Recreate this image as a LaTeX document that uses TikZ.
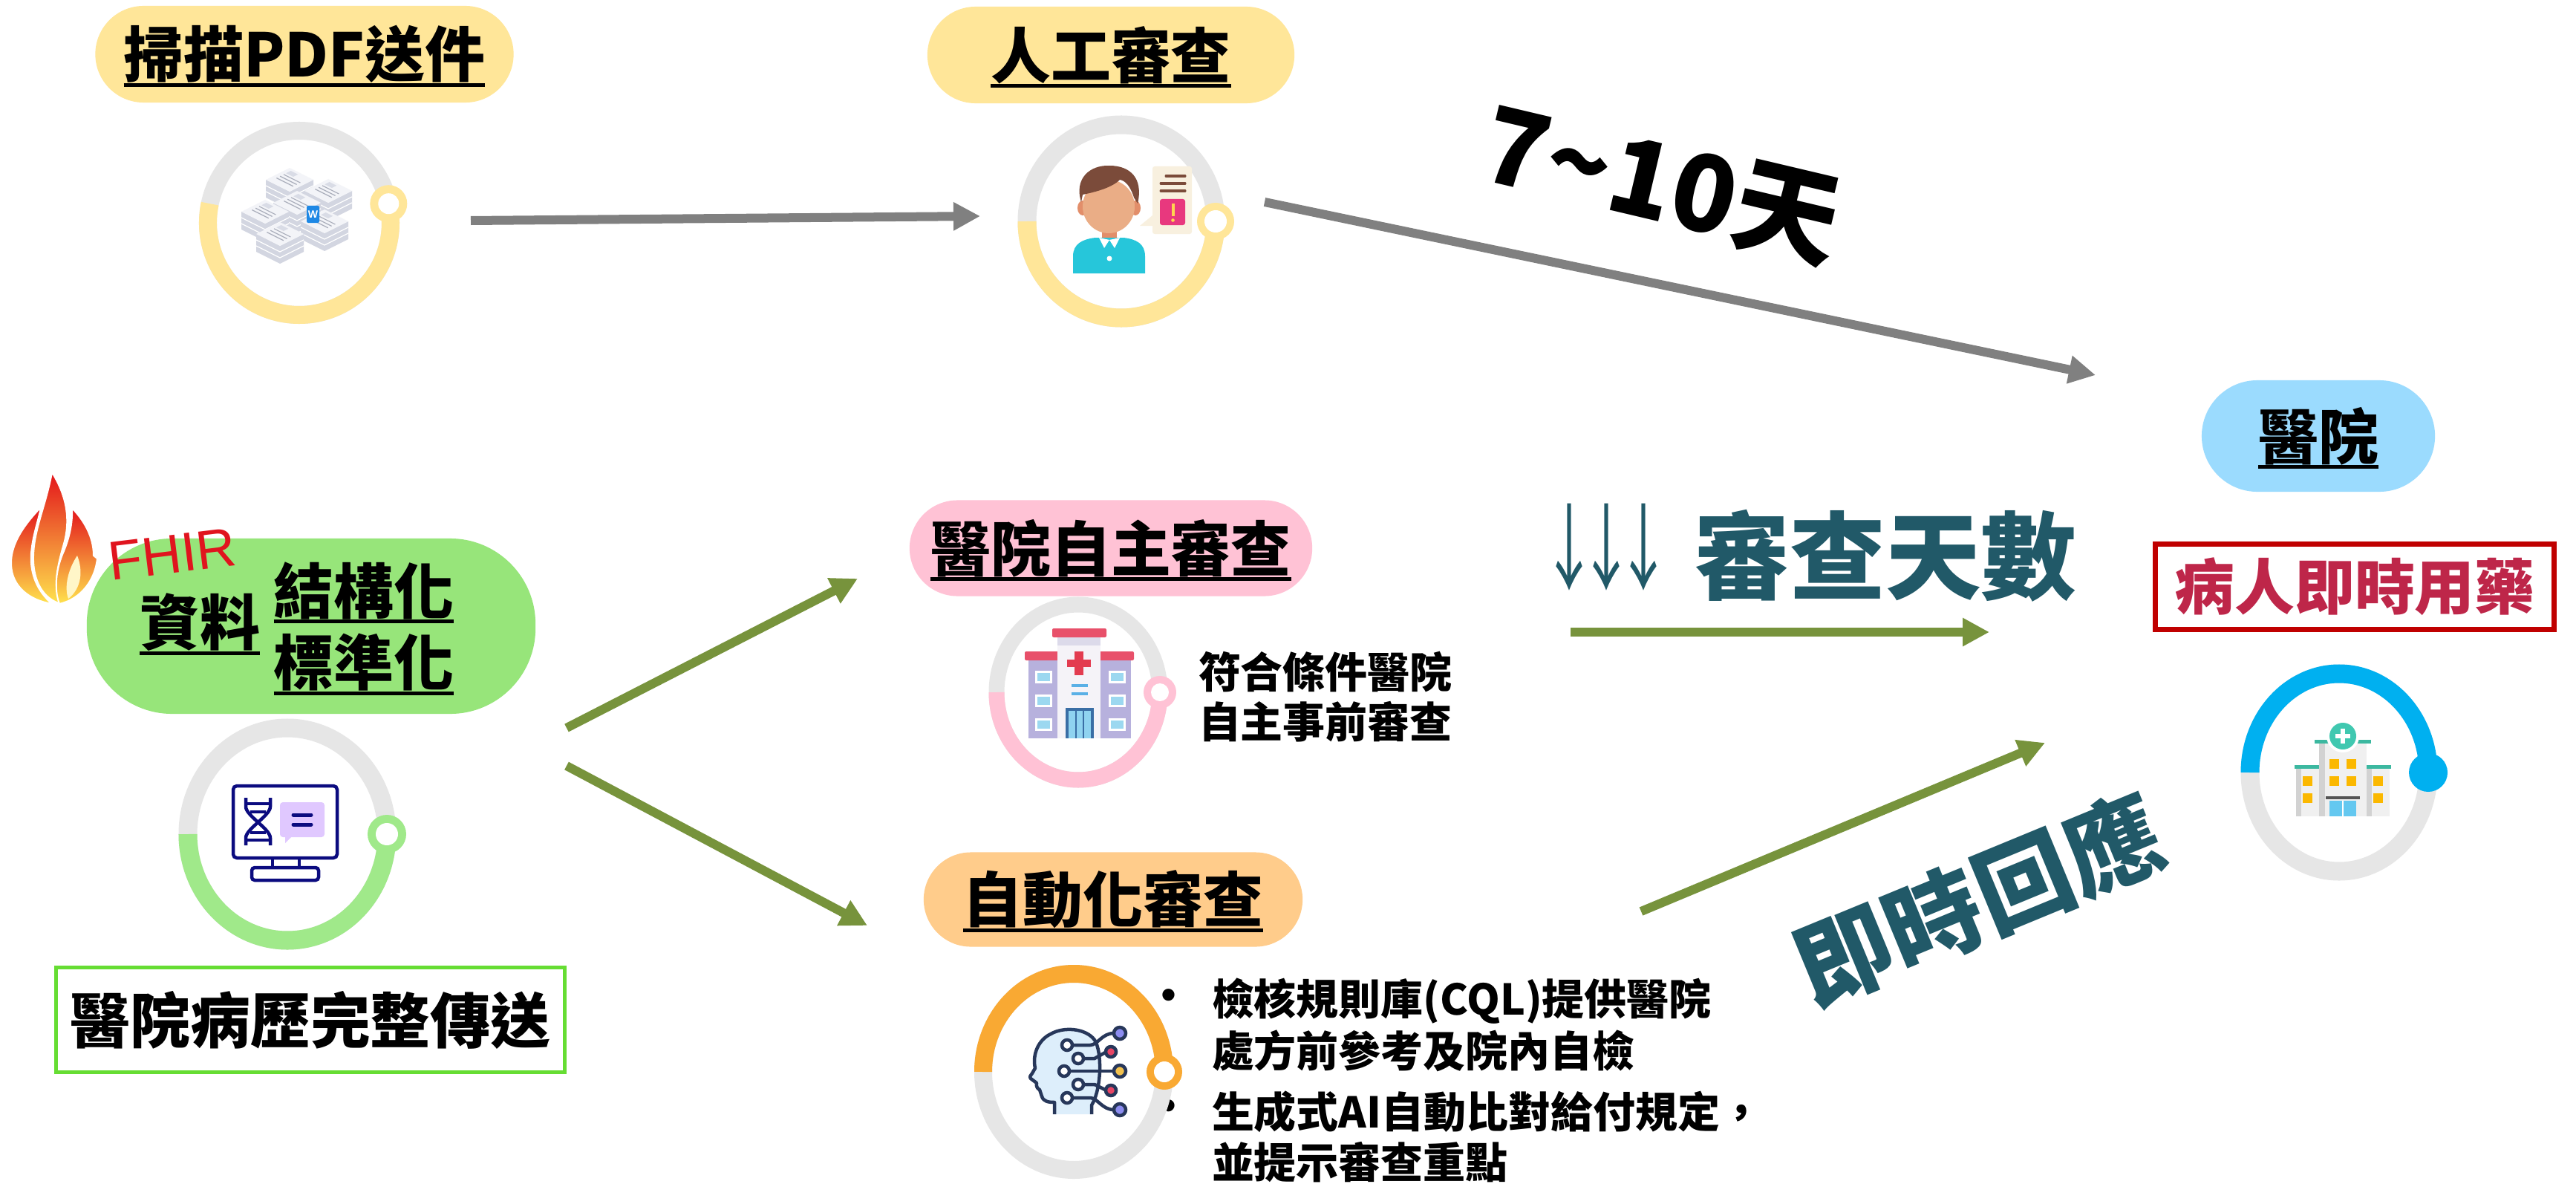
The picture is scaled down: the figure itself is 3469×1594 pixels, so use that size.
\documentclass[tikz,border=0pt]{standalone}
\usepackage{fontspec}
\newfontfamily\cjk{Noto Sans CJK TC}
\newfontfamily\cjkplain{Noto Sans CJK TC}[Kerning=Off]
\newfontfamily\lsans{Liberation Sans}
\usetikzlibrary{arrows.meta,calc}

% palette
\definecolor{pillyellow}{HTML}{FFE699}
\definecolor{pillgreen}{HTML}{97E57A}
\definecolor{ringgreen}{HTML}{A0E98A}
\definecolor{pillpink}{HTML}{FFC2D5}
\definecolor{pillorange}{HTML}{FFCC8B}
\definecolor{ringorange}{HTML}{F9A933}
\definecolor{pillblue}{HTML}{9BDBFE}
\definecolor{ringblue}{HTML}{00B0F0}
\definecolor{ringgray}{HTML}{E6E6E6}
\definecolor{arrowgray}{HTML}{808080}
\definecolor{arrowolive}{HTML}{77933C}
\definecolor{tealtext}{HTML}{215968}
\definecolor{boxgreen}{HTML}{66DD33}
\definecolor{boxred}{HTML}{C00000}
\definecolor{drugred}{HTML}{BE2649}
\definecolor{fhirred}{HTML}{E0141E}
\definecolor{flred}{HTML}{E3141B}
\definecolor{florange}{HTML}{F39A1E}
\definecolor{flyellow}{HTML}{FFE34D}
\definecolor{flcore}{HTML}{FFF6C8}
\definecolor{doctop}{HTML}{F3F4F8}
\definecolor{docside}{HTML}{D3D6E1}
\definecolor{docline}{HTML}{A9ADBA}
\definecolor{docpic}{HTML}{D9DCE6}
\definecolor{badgeblue}{HTML}{1E88E5}
\definecolor{hairbrown}{HTML}{7B4B3A}
\definecolor{skin}{HTML}{EAAD86}
\definecolor{skindark}{HTML}{E28E6A}
\definecolor{shirtcyan}{HTML}{26C6DA}
\definecolor{notepaper}{HTML}{F8F0DF}
\definecolor{alertpink}{HTML}{E8387E}
\definecolor{alertyellow}{HTML}{FFD54F}
\definecolor{navyline}{HTML}{0B0B7F}
\definecolor{lavender}{HTML}{E0C8FF}
\definecolor{wingpurple}{HTML}{B7B1DD}
\definecolor{roofred}{HTML}{E8506A}
\definecolor{crossred}{HTML}{E33C50}
\definecolor{towerwhite}{HTML}{F5F3F8}
\definecolor{towerband}{HTML}{DCDAEA}
\definecolor{winblue}{HTML}{9CD8F0}
\definecolor{barblue}{HTML}{5AB0E6}
\definecolor{doorframe}{HTML}{3A6EA5}
\definecolor{doorblue}{HTML}{8FD3F0}
\definecolor{headnavy}{HTML}{27375A}
\definecolor{headblue}{HTML}{DDEEFB}
\definecolor{nodepurple}{HTML}{8C8CF0}
\definecolor{nodered}{HTML}{E84565}
\definecolor{nodeyellow}{HTML}{F2C14E}
\definecolor{bldwhite}{HTML}{F0F0F0}
\definecolor{bldgray}{HTML}{D2D2D2}
\definecolor{hospteal}{HTML}{3CB8A0}
\definecolor{hospteal2}{HTML}{40C8B0}
\definecolor{winyellow}{HTML}{FBB800}
\definecolor{doorlblue}{HTML}{64C8F0}
\definecolor{awning}{HTML}{555555}

% underlined heading text; the rule does not change the box size
\newsavebox\ulbox
\newcommand\ulined[1]{\sbox\ulbox{#1}\smash{\rlap{\rule[-0.16em]{\wd\ulbox}{0.06em}}}\usebox\ulbox}
\newcommand\dnarrow{\makebox[0.5cm]{\scalebox{0.6}[1]{↓}}}

% one isometric stack of paper sheets
\newcommand\paperstack[2]{%
\begin{scope}[shift={(#1,#2)}]
 \fill[docside] (-32,0) -- (0,16) -- (32,0) -- (32,24) -- (0,40) -- (-32,24) -- cycle;
 \draw[white, line width=0.012cm] (-32,8) -- (0,24) -- (32,8) (-32,16) -- (0,32) -- (32,16);
 \fill[doctop] (-32,0) -- (0,-16) -- (32,0) -- (0,16) -- cycle;
 \fill[docpic] (-4.8,-8.8) -- (1.6,-12) -- (11.2,-7.2) -- (4.8,-4) -- cycle;
 \draw[docline, line width=0.012cm] (-17.6,-2.4) -- (4.8,8.8) (-12.8,-4.8) -- (9.6,6.4) (-8,-7.2) -- (14.4,4);
\end{scope}}

\tikzset{
  every node/.style={inner sep=0pt, outer sep=0pt},
  pill/.style={rounded corners=#1},
  headtxt/.style={font=\cjk\bfseries\fontsize{23}{27}\selectfont},
  bodytxt/.style={font=\cjk\bfseries\fontsize{16.2}{19}\selectfont, anchor=west},
  bulletdot/.style={font=\lsans\fontsize{17}{19}\selectfont},
  grayarrow/.style={draw=arrowgray, line width=0.12cm, -{Triangle[length=0.36cm,width=0.36cm]}},
  olivearrow/.style={draw=arrowolive, line width=0.12cm, -{Triangle[length=0.36cm,width=0.36cm]}},
  track/.style={draw=ringgray, line width=#1},
}

\begin{document}
\begin{tikzpicture}[x=0.01cm, y=-0.01cm]
\useasboundingbox (0,0) rectangle (3469,1594);
\fill[white] (0,0) rectangle (3469,1594);

% ---------- stage titles ----------
\node[pill=0.65cm, fill=pillyellow, minimum width=5.63cm, minimum height=1.3cm, headtxt] (scan) at (410,73) {\ulined{掃描PDF送件}};
\node[pill=0.65cm, fill=pillyellow, minimum width=4.94cm, minimum height=1.3cm, headtxt] (manual) at (1496,74) {\ulined{人工審查}};
\node[pill=1.15cm, fill=pillgreen, minimum width=6.04cm, minimum height=2.36cm] (data) at (419,843) {};
\node[headtxt] (data-a) at (269,838) {\ulined{資料}};
\node[headtxt] (data-b) at (490,795) {\ulined{結構化}};
\node[headtxt] (data-c) at (490,892) {\ulined{標準化}};
\node[pill=0.645cm, fill=pillpink, minimum width=5.42cm, minimum height=1.29cm, headtxt] (self) at (1496,738) {\ulined{醫院自主審查}};
\node[pill=0.635cm, fill=pillorange, minimum width=5.1cm, minimum height=1.27cm, headtxt] (auto) at (1499,1211) {\ulined{自動化審查}};
\node[pill=0.75cm, fill=pillblue, minimum width=3.14cm, minimum height=1.5cm, headtxt] (hosp) at (3122,587) {\ulined{醫院}};

\node[draw=boxgreen, line width=0.05cm, minimum width=6.84cm, minimum height=1.4cm, headtxt] (record) at (418,1373) {醫院病歷完整傳送};
\node[draw=boxred, line width=0.07cm, minimum width=5.36cm, minimum height=1.14cm, headtxt, text=drugred] (patient) at (3171,790) {病人即時用藥};

% ---------- FHIR flame ----------
\shade[top color=flred, middle color=florange, bottom color=flyellow, draw=white, line width=0.02cm]
  (55,683) .. controls (36,703) and (14,730) .. (15,760) .. controls (16,790) and (40,808) .. (70,813)
  .. controls (50,796) and (40,772) .. (42,745) .. controls (44,720) and (52,700) .. (55,683) -- cycle;
\shade[top color=flred, middle color=florange, bottom color=flyellow, draw=white, line width=0.02cm]
  (70,636) .. controls (90,668) and (95,700) .. (86,732) .. controls (78,760) and (70,790) .. (82,813)
  .. controls (58,806) and (44,782) .. (45,748) .. controls (46,712) and (62,680) .. (70,636) -- cycle;
\shade[top color=flred, middle color=florange, bottom color=flyellow, draw=white, line width=0.02cm]
  (97,684) .. controls (118,706) and (126,728) .. (126,748) -- (131,752)
  .. controls (128,780) and (110,806) .. (80,813) .. controls (72,792) and (76,764) .. (86,742)
  .. controls (93,725) and (98,705) .. (97,684) -- cycle;
\fill[flcore] (104,748) .. controls (112,768) and (110,792) .. (92,806) .. controls (86,790) and (92,766) .. (104,748) -- cycle;
\node[font=\lsans\fontsize{21}{24}\selectfont, text=fhirred, rotate=7] (fhir) at (232,746) {FHIR};

% ---------- ring centres ----------
\coordinate (ring-scan) at (403,300);
\coordinate (ring-manual) at (1510,298);
\coordinate (ring-data) at (387,1123);
\coordinate (ring-self) at (1452,932);
\coordinate (ring-auto) at (1446,1443);
\coordinate (ring-hosp) at (3150,1040);

% scan ring
\draw[track=0.24cm] (ring-scan) ellipse[x radius=123, y radius=124];
\draw[pillyellow, line width=0.24cm] ($(ring-scan)+(192:123 and 124)$) arc[start angle=192, end angle=-12, x radius=123, y radius=124];
\fill[pillyellow] ($(ring-scan)+(-12:123 and 124)$) circle[radius=25];
\fill[white] ($(ring-scan)+(-12:123 and 124)$) circle[radius=14];

% manual ring
\draw[track=0.25cm] (ring-manual) ellipse[x radius=127, y radius=130];
\draw[pillyellow, line width=0.25cm] ($(ring-manual)+(180:127 and 130)$) arc[start angle=180, end angle=0, x radius=127, y radius=130];
\fill[pillyellow] ($(ring-manual)+(0:127 and 130)$) circle[radius=25];
\fill[white] ($(ring-manual)+(0:127 and 130)$) circle[radius=15];

% data ring
\draw[track=0.25cm] (ring-data) ellipse[x radius=134, y radius=143];
\draw[ringgreen, line width=0.25cm] ($(ring-data)+(180:134 and 143)$) arc[start angle=180, end angle=0, x radius=134, y radius=143];
\fill[ringgreen] ($(ring-data)+(0:134 and 143)$) circle[radius=26];
\fill[white] ($(ring-data)+(0:134 and 143)$) circle[radius=15];

% self-review ring
\draw[track=0.21cm] (ring-self) ellipse[x radius=110, y radius=118];
\draw[pillpink, line width=0.21cm] ($(ring-self)+(180:110 and 118)$) arc[start angle=180, end angle=0, x radius=110, y radius=118];
\fill[pillpink] ($(ring-self)+(0:110 and 118)$) circle[radius=22];
\fill[white] ($(ring-self)+(0:110 and 118)$) circle[radius=12];

% ---------- texts beside the rings ----------
\node[bodytxt] (self-l1) at (1614,905) {符合條件醫院};
\node[bodytxt] (self-l2) at (1614,972) {自主事前審查};
\node[bulletdot] (bul1) at (1574,1346) {•};
\node[bulletdot] (bul2) at (1574,1495) {•};
\node[bodytxt] (auto-l1) at (1632,1348) {檢核規則庫(CQL)提供醫院};
\node[bodytxt] (auto-l2) at (1632,1415) {處方前參考及院內自檢};
\node[bodytxt] (auto-l3) at (1632,1497) {生成式AI自動比對給付規定，};
\node[bodytxt] (auto-l4) at (1632,1565) {並提示審查重點};

% automated-review ring
\draw[track=0.24cm] (ring-auto) ellipse[x radius=122, y radius=132];
\draw[ringorange, line width=0.24cm] ($(ring-auto)+(180:122 and 132)$) arc[start angle=180, end angle=360, x radius=122, y radius=132];
\fill[ringorange] ($(ring-auto)+(0:122 and 132)$) circle[radius=24];
\fill[white] ($(ring-auto)+(0:122 and 132)$) circle[radius=14];

% hospital ring
\draw[track=0.25cm] (ring-hosp) ellipse[x radius=120, y radius=133];
\draw[ringblue, line width=0.25cm] ($(ring-hosp)+(180:120 and 133)$) arc[start angle=180, end angle=360, x radius=120, y radius=133];
\fill[ringblue] ($(ring-hosp)+(0:120 and 133)$) circle[radius=26];

% ---------- icon: scanned paper stacks ----------
\paperstack{390}{242}
\paperstack{442}{257}
\paperstack{400}{273}
\paperstack{357}{285}
\paperstack{437}{298}
\paperstack{377}{315}
\fill[badgeblue, rounded corners=0.02cm] (413,277) rectangle (430,300);
\node[font=\lsans\bfseries\fontsize{4}{4}\selectfont, text=white] (badge-w) at (421.5,288.5) {W};

% ---------- icon: reviewer ----------
\fill[skindark] (1458,280) ellipse[x radius=7, y radius=10];
\fill[skindark] (1529,280) ellipse[x radius=7, y radius=10];
\fill[skindark] (1484,305) rectangle (1504,326);
\fill[shirtcyan] (1445,368) -- (1445,345) .. controls (1445,328) and (1458,322) .. (1475,320) -- (1513,320)
  .. controls (1530,322) and (1542,328) .. (1542,345) -- (1542,368) -- cycle;
\fill[white] (1480,320) -- (1494,323) -- (1487,334) -- cycle;
\fill[white] (1508,320) -- (1494,323) -- (1501,334) -- cycle;
\fill[white] (1494,348) circle[radius=3.5];
\fill[skin] (1493,278) ellipse[x radius=35, y radius=36];
\fill[hairbrown] (1456,272) .. controls (1446,240) and (1468,222) .. (1494,223) .. controls (1522,223) and (1540,240) .. (1532,274)
  -- (1527,266) .. controls (1522,250) and (1515,243) .. (1508,242) .. controls (1498,252) and (1478,258) .. (1458,262) -- cycle;
\fill[notepaper] (1552,290) -- (1535,304) -- (1556,304) -- cycle;
\fill[notepaper, rounded corners=0.03cm] (1552,224) rectangle (1605,315);
\draw[hairbrown, line width=0.03cm, line cap=round] (1570,237) -- (1596,237) (1563,247) -- (1596,247) (1563,257) -- (1596,257);
\fill[alertpink, rounded corners=0.03cm] (1562,268) rectangle (1596,303);
\fill[alertyellow] (1577.5,274) rectangle (1581.5,291);
\fill[alertyellow] (1579.5,296.5) circle[radius=2.3];

% ---------- icon: monitor with DNA ----------
\begin{scope}[navyline, line width=0.045cm]
 \draw[rounded corners=0.05cm] (314,1058) rectangle (454,1155);
 \draw (367,1155) -- (367,1168) (403,1155) -- (403,1168);
 \draw[rounded corners=0.04cm] (339,1168) rectangle (429,1185);
 \draw (331,1074) -- (331,1086) .. controls (331,1098) and (364,1116) .. (364,1128) -- (364,1138);
 \draw (364,1074) -- (364,1086) .. controls (364,1098) and (331,1116) .. (331,1128) -- (331,1138);
 \draw (331,1082) -- (364,1082) (337,1093) -- (358,1093) (337,1121) -- (358,1121) (331,1131) -- (364,1131);
 \fill[lavender, rounded corners=0.04cm] (377,1080) rectangle (437,1127);
 \fill[lavender] (384,1124) -- (384,1135) -- (395,1124) -- cycle;
 \draw[line width=0.05cm, line cap=round] (395,1097) -- (419,1097) (395,1110) -- (419,1110);
\end{scope}

% ---------- icon: hospital (self review) ----------
\fill[wingpurple] (1385,886) rectangle (1424,994);
\fill[wingpurple] (1482,886) rectangle (1523,994);
\fill[roofred, rounded corners=0.02cm] (1380,877) rectangle (1428,889);
\fill[roofred, rounded corners=0.02cm] (1478,877) rectangle (1527,889);
\fill[towerwhite] (1424,856) rectangle (1482,994);
\fill[towerband] (1424,856) rectangle (1482,869);
\fill[roofred, rounded corners=0.02cm] (1417,846) rectangle (1490,858);
\fill[crossred] (1447,877) rectangle (1459,909);
\fill[crossred] (1437,888) rectangle (1469,898);
\fill[barblue] (1443,921) rectangle (1465,925);
\fill[barblue] (1443,932) rectangle (1465,936);
\fill[doorframe] (1435,953) rectangle (1473,994);
\fill[doorblue] (1439,957) rectangle (1469,994);
\draw[doorframe, line width=0.015cm] (1449,957) -- (1449,994) (1459,957) -- (1459,994);
\foreach \wy in {903,935,967} {
  \fill[white] (1394,\wy) rectangle (1417,\wy+17);
  \fill[winblue] (1397,\wy+3) rectangle (1414,\wy+14);
  \fill[white] (1493,\wy) rectangle (1516,\wy+17);
  \fill[winblue] (1496,\wy+3) rectangle (1513,\wy+14);
}

% ---------- icon: AI head ----------
\filldraw[fill=headblue, draw=headnavy, line width=0.045cm, line join=round]
 (1420,1500) -- (1420,1484) .. controls (1412,1484) and (1405,1483) .. (1403,1476)
 -- (1400,1467) .. controls (1397,1466) and (1395,1462) .. (1396,1458)
 -- (1388,1452) .. controls (1386,1450) and (1388,1447) .. (1390,1445)
 -- (1394,1438) .. controls (1390,1420) and (1398,1400) .. (1415,1392)
 .. controls (1432,1382) and (1462,1384) .. (1474,1400)
 .. controls (1484,1415) and (1484,1465) .. (1470,1488) -- (1470,1500);
\begin{scope}[headnavy, line width=0.045cm]
 \draw (1437,1407) -- (1468,1407) .. controls (1478,1407) and (1484,1391) .. (1500,1391);
 \draw (1452,1425) -- (1474,1425) -- (1490,1416);
 \draw (1433,1442) -- (1500,1442);
 \draw (1452,1460) -- (1474,1460) -- (1490,1468);
 \draw (1437,1478) -- (1468,1478) .. controls (1478,1478) and (1484,1494) .. (1500,1494);
 \filldraw[fill=white] (1437,1407) circle[radius=7] (1452,1425) circle[radius=7] (1433,1442) circle[radius=7]
   (1452,1460) circle[radius=7] (1437,1478) circle[radius=7];
 \filldraw[fill=nodepurple] (1508,1391) circle[radius=8];
 \filldraw[fill=nodered] (1496,1416) circle[radius=7];
 \filldraw[fill=nodeyellow] (1508,1442) circle[radius=8];
 \filldraw[fill=nodered] (1496,1468) circle[radius=7];
 \filldraw[fill=nodepurple] (1508,1494) circle[radius=8];
\end{scope}

% ---------- icon: hospital (result) ----------
\fill[bldwhite] (3092,1033) rectangle (3123,1099);
\fill[bldgray] (3092,1033) rectangle (3099,1099);
\fill[bldwhite] (3187,1033) rectangle (3218,1099);
\fill[bldgray] (3187,1033) rectangle (3194,1099);
\fill[hospteal] (3090,1030) rectangle (3125,1035);
\fill[hospteal] (3185,1030) rectangle (3220,1035);
\fill[bldwhite] (3123,999) rectangle (3187,1099);
\fill[bldgray] (3123,999) rectangle (3131,1099);
\fill[hospteal] (3117,996) rectangle (3193,1001);
\fill[white] (3155,991) circle[radius=22];
\fill[hospteal2] (3155,991) circle[radius=18];
\fill[white] (3152,981) rectangle (3158,1001);
\fill[white] (3145,988) rectangle (3165,994);
\foreach \wx/\wy in {3137/1022,3160/1022,3137/1045,3160/1045,3101/1045,3101/1068,3196/1045,3196/1068}
  \fill[winyellow] (\wx,\wy) rectangle (\wx+13,\wy+13);
\fill[doorlblue] (3137,1078) rectangle (3173,1099);
\draw[white, line width=0.012cm] (3155,1078) -- (3155,1099);
\fill[awning] (3132,1072) rectangle (3178,1076);

% ---------- connectors ----------
\coordinate (scan-out) at (634,297);
\coordinate (manual-in) at (1320,291);
\coordinate (manual-out) at (1703,272);
\coordinate (hosp-in-top) at (2822,505);
\coordinate (data-out-up) at (763,980);
\coordinate (self-in) at (1155,779);
\coordinate (data-out-down) at (763,1031);
\coordinate (auto-in) at (1168,1246);
\coordinate (fewer-start) at (2115,851);
\coordinate (fewer-end) at (2679,851);
\coordinate (auto-out) at (2210,1227);
\coordinate (hosp-in-bottom) at (2754,1000);

\draw[grayarrow] (scan-out) -- (manual-in);
\draw[grayarrow] (manual-out) -- (hosp-in-top);
\draw[olivearrow] (data-out-up) -- (self-in);
\draw[olivearrow] (data-out-down) -- (auto-in);
\draw[olivearrow] (fewer-start) -- (fewer-end);
\draw[olivearrow] (auto-out) -- (hosp-in-bottom);

% ---------- connector labels ----------
\node[font=\cjkplain\bfseries\fontsize{40.5}{46}\selectfont, rotate=-13.3] (days) at (2238,248) {7\textasciitilde 10天};
\node[font=\cjk\fontsize{36}{40}\selectfont, text=tealtext] (down) at (2163,737) {\dnarrow\dnarrow\dnarrow};
\node[font=\cjk\bfseries\fontsize{36.6}{40}\selectfont, text=tealtext] (fewer) at (2539,748) {審查天數};
\node[font=\cjk\bfseries\fontsize{37}{40}\selectfont, text=tealtext, rotate=22.4] (instant) at (2664,1211) {即時回應};

\end{tikzpicture}
\end{document}
